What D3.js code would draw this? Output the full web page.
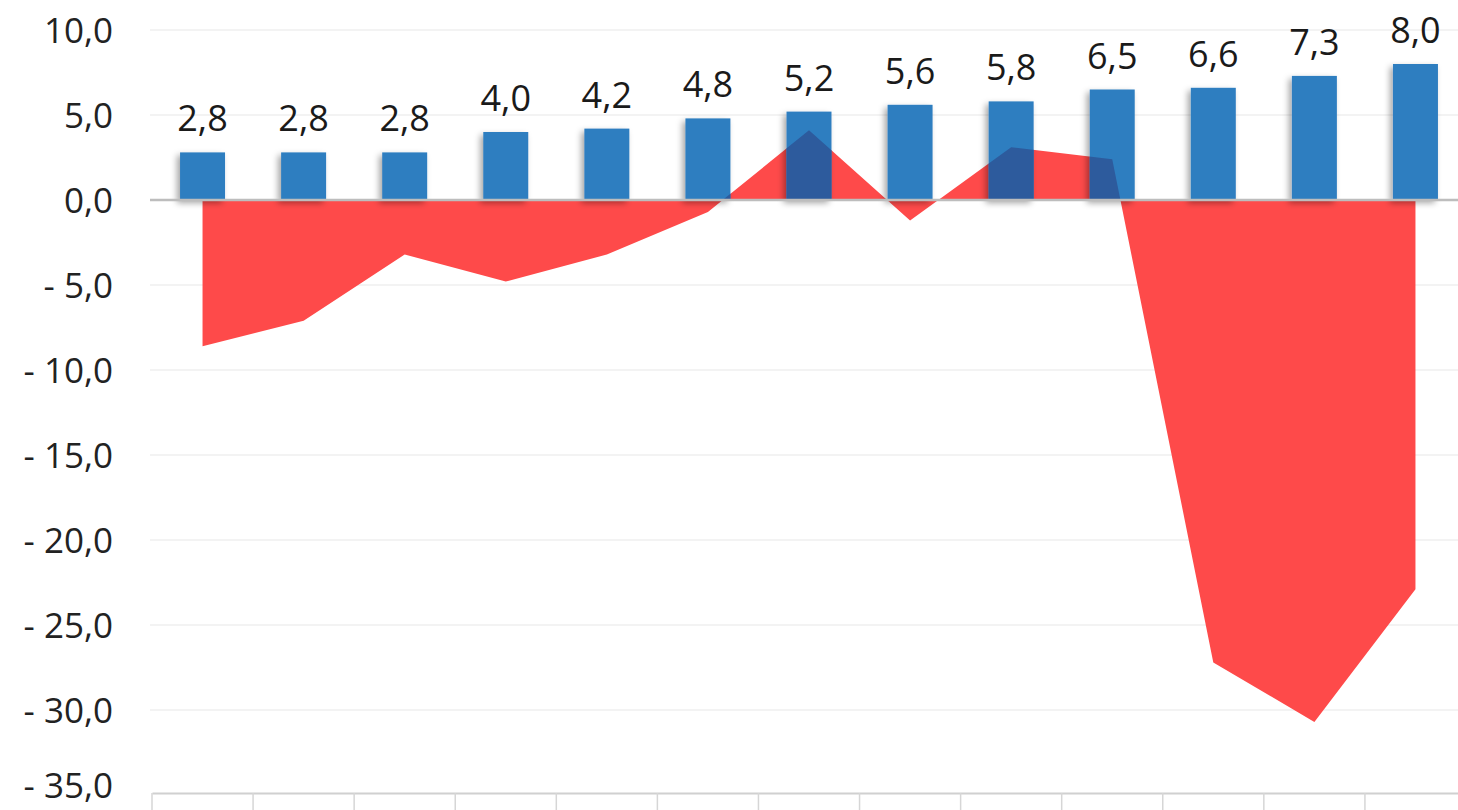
<!DOCTYPE html>
<html>
<head>
<meta charset="utf-8">
<script src="https://cdn.jsdelivr.net/npm/d3@7"></script>
<style>
  html, body { margin: 0; padding: 0; background: #fff; overflow: hidden; }
  text { font-family: "Open Sans", sans-serif; }
</style>
</head>
<body>
<script>
const width = 1458;
const height = 810;

// categories (labels are cut off at the bottom of the picture)
const categories = ['c01', 'c02', 'c03', 'c04', 'c05', 'c06', 'c07', 'c08', 'c09', 'c10', 'c11', 'c12', 'c13'];
// blue bars
const barValues = [2.8, 2.8, 2.8, 4.0, 4.2, 4.8, 5.2, 5.6, 5.8, 6.5, 6.6, 7.3, 8.0];
// red area
const areaValues = [-8.6, -7.1, -3.2, -4.8, -3.2, -0.7, 4.1, -1.2, 3.1, 2.4, -27.2, -30.7, -22.9];
// y axis ticks
const yTicks = [10, 5, 0, -5, -10, -15, -20, -25, -30, -35];

const fmt = v => {
  const s = Math.abs(v).toFixed(1).replace('.', ',');
  return v < 0 ? '- ' + s : s;
};

var xScale = d3.scaleBand().domain(categories).range([152, 1466]).paddingInner(0).paddingOuter(0);
var yScale = d3.scaleLinear().domain([-35, 10]).range([795, 30]);

const barW = xScale.bandwidth() * 0.445;
const cx = c => xScale(c) + xScale.bandwidth() / 2;

const svg = d3.select('body')
    .append('svg')
    .attr('width', width)
    .attr('height', height);

const defs = svg.append('defs');
const shadow = defs.append('filter').attr('id', 'shadow')
    .attr('x', '-30%').attr('y', '-30%').attr('width', '160%').attr('height', '160%');
shadow.append('feDropShadow')
    .attr('dx', -3).attr('dy', 3).attr('stdDeviation', 3)
    .attr('flood-color', '#000').attr('flood-opacity', 0.35);

const clip = defs.append('clipPath').attr('id', 'barclip');
clip.selectAll('rect')
    .data(barValues)
    .enter()
    .append('rect')
    .attr('x', (d, i) => cx(categories[i]) - barW / 2)
    .attr('y', d => yScale(d))
    .attr('width', barW)
    .attr('height', d => yScale(0) - yScale(d));

// gridlines
svg.append('g')
    .selectAll('line')
    .data(yTicks.filter(t => t !== 0 && t !== -35))
    .enter()
    .append('line')
    .attr('x1', 150).attr('x2', width)
    .attr('y1', d => yScale(d)).attr('y2', d => yScale(d))
    .attr('stroke', '#efefef').attr('stroke-width', 1.5);

// y axis labels
var yAxis = d3.axisLeft(yScale).tickValues(yTicks).tickFormat(fmt).tickSize(0).tickPadding(0);
const yg = svg.append('g')
    .attr('transform', 'translate(113,0)')
    .call(yAxis);
yg.select('.domain').remove();
yg.selectAll('text')
    .attr('font-family', '"Open Sans", sans-serif')
    .attr('font-size', 35)
    .attr('fill', '#222')
    .attr('dy', d => d === -35 ? '0.08em' : '0.35em');

const area = d3.area()
    .x((d, i) => cx(categories[i]))
    .y0(yScale(0))
    .y1(d => yScale(d));

// red area
svg.append('path')
    .datum(areaValues)
    .attr('d', area)
    .attr('fill', '#fe4a4a');

// bars
svg.append('g')
    .selectAll('rect')
    .data(barValues)
    .enter()
    .append('rect')
    .attr('x', (d, i) => cx(categories[i]) - barW / 2)
    .attr('y', d => yScale(d))
    .attr('width', barW)
    .attr('height', d => yScale(0) - yScale(d))
    .attr('fill', '#2f7ec0')
    .attr('filter', 'url(#shadow)');

// overlap of area and bars is darker
svg.append('path')
    .datum(areaValues)
    .attr('d', area)
    .attr('fill', '#2d5b9d')
    .attr('clip-path', 'url(#barclip)');

// bar labels
svg.append('g')
    .selectAll('text')
    .data(barValues)
    .enter()
    .append('text')
    .attr('x', (d, i) => cx(categories[i]))
    .attr('y', d => yScale(d) - 21)
    .attr('text-anchor', 'middle')
    .attr('font-size', 36)
    .attr('fill', '#1a1a1a')
    .text(d => fmt(d));

// zero line
svg.append('line')
    .attr('x1', 150).attr('x2', width)
    .attr('y1', yScale(0)).attr('y2', yScale(0))
    .attr('stroke', '#bdbdbd').attr('stroke-width', 2.5);

// bottom category axis
var xAxis = d3.axisBottom(xScale).tickFormat('').tickSize(0);
const xg = svg.append('g')
    .attr('transform', `translate(0, ${yScale(-35) - 2})`)
    .call(xAxis);
xg.select('.domain').attr('stroke', '#d0d0d0').attr('stroke-width', 2);
xg.selectAll('.sep')
    .data(categories)
    .enter()
    .append('line')
    .attr('class', 'sep')
    .attr('x1', d => xScale(d)).attr('x2', d => xScale(d))
    .attr('y1', 0).attr('y2', 30)
    .attr('stroke', '#d6d6d6').attr('stroke-width', 1.5);
</script>
</body>
</html>
